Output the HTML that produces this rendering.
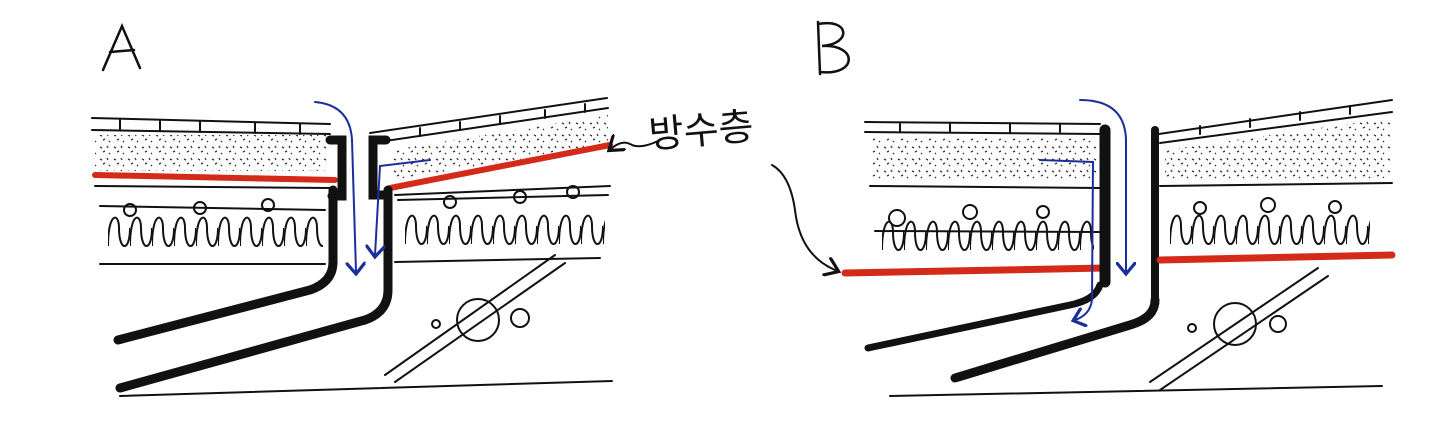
<!DOCTYPE html>
<html><head><meta charset="utf-8"><style>
html,body{margin:0;padding:0;background:#fff;}
svg{display:block;}
</style></head><body>
<svg width="1440" height="445" viewBox="0 0 1440 445" xmlns="http://www.w3.org/2000/svg">
<defs>
<pattern id="wave" width="22" height="46" patternUnits="userSpaceOnUse">
<path d="M0 38 C0 4,11 4,11 20 C11 44,22 44,22 20" fill="none" stroke="#111" stroke-width="2"/>
</pattern>
<pattern id="speck" width="14" height="12" patternUnits="userSpaceOnUse">
<path d="M2 3 l2 1 M9 2 l1 2 M5 8 l2 -1 M11 9 l1 1" stroke="#333" stroke-width="1.3"/>
</pattern>
<marker id="ab" markerWidth="10" markerHeight="10" refX="5" refY="5" orient="auto"><path d="M0 0 L6 5 L0 10" fill="none" stroke="#1a2f9a" stroke-width="1.6"/></marker>
<marker id="ak" markerWidth="10" markerHeight="10" refX="5" refY="5" orient="auto"><path d="M0 0 L7 5 L0 10" fill="none" stroke="#111" stroke-width="1.6"/></marker>
</defs>
<g fill="none" stroke="#111" stroke-width="2" stroke-linecap="round">
<path d="M103 70 L122 26 L140 68 M110 52 L134 50" stroke-width="2.5"/>
<path d="M818 22 L820 74 M818 24 C850 18,852 44,822 46 C858 44,858 76,820 72" stroke-width="2.5"/>

<!-- ===== A ===== -->
<path d="M92 118 L330 124 M92 130 L330 134"/>
<path d="M120 120 l0 10 M160 121 l0 10 M200 122 l0 10 M255 123 l0 10 M300 124 l0 10"/>
<rect x="95" y="135" width="232" height="36" fill="url(#speck)" stroke="none"/>
<path d="M95 175 L335 180" stroke="#d42a1a" stroke-width="6"/>
<path d="M95 186 L330 188"/>
<g transform="translate(108,208)"><rect width="215" height="46" fill="url(#wave)" stroke="none"/></g>
<path d="M100 206 L325 210 M100 264 L325 264"/>
<circle cx="130" cy="210" r="6"/><circle cx="200" cy="208" r="6"/><circle cx="268" cy="205" r="6"/>
<path d="M330 140 L342 140 L342 196 L332 196" stroke-width="9"/>
<path d="M333 190 L333 262 Q333 282 310 290 L118 340" stroke-width="9"/>
<path d="M370 133 L607 98 M372 143 L608 108"/>
<path d="M420 136 l0 -8 M460 130 l0 -8 M500 124 l0 -8 M545 118 l0 -8 M585 112 l0 -8"/>
<path d="M392 150 L608 115 L608 145 L392 180 Z" fill="url(#speck)" stroke="none"/>
<path d="M390 188 L610 145" stroke="#d42a1a" stroke-width="6"/>
<path d="M395 195 L610 186"/>
<g transform="translate(405,206)"><rect width="200" height="46" fill="url(#wave)" stroke="none"/></g>
<path d="M398 200 L608 195 M395 262 L600 258"/>
<circle cx="450" cy="202" r="6"/><circle cx="520" cy="197" r="6"/><circle cx="573" cy="192" r="6"/>
<path d="M386 140 L373 140 L373 195 L386 195" stroke-width="9"/>
<path d="M388 190 L388 290 Q388 312 365 320 L120 388" stroke-width="9"/>
<path d="M120 396 L612 381"/>
<path d="M385 375 L555 255 M395 382 L565 263"/>
<circle cx="478" cy="320" r="21"/><circle cx="436" cy="324" r="4"/><circle cx="520" cy="318" r="9"/>
<path d="M315 102 Q350 105 352 140 L356 272" stroke="#1a2f9a" marker-end="url(#ab)"/>
<path d="M430 160 L380 166 L375 255" stroke="#1a2f9a" marker-end="url(#ab)"/>

<text x="650" y="148" font-family="Liberation Sans, 'Noto Sans CJK KR', sans-serif" font-size="38" fill="#111" stroke="none" transform="rotate(-5 650 148)">방수층</text>
<path d="M660 140 Q640 150 630 144 Q622 140 612 148" marker-end="url(#ak)"/>
<path d="M772 165 Q790 175 795 210 Q800 255 835 270" marker-end="url(#ak)"/>

<!-- ===== B ===== -->
<path d="M865 122 L1100 124 M865 132 L1100 134"/>
<path d="M900 124 l0 8 M950 124 l0 8 M1010 124 l0 8 M1060 124 l0 8"/>
<rect x="872" y="138" width="225" height="42" fill="url(#speck)" stroke="none"/>
<path d="M870 186 L1100 188"/>
<g transform="translate(882,212)"><rect width="212" height="46" fill="url(#wave)" stroke="none"/></g>
<path d="M875 231 L1100 232"/>
<circle cx="897" cy="218" r="8"/><circle cx="970" cy="212" r="7"/><circle cx="1043" cy="212" r="6"/>
<path d="M845 273 L1105 268" stroke="#d42a1a" stroke-width="7"/>
<path d="M1105 130 L1105 282" stroke-width="11"/>
<path d="M1100 285 Q1095 300 1070 305 L868 348" stroke-width="7"/>
<path d="M1155 300 L1155 130" stroke-width="8"/>
<path d="M1152 135 L1392 100 M1160 143 L1392 112"/>
<path d="M1200 134 l0 -8 M1250 127 l0 -8 M1300 120 l0 -8 M1350 114 l0 -8"/>
<path d="M1165 150 L1390 118 L1390 178 L1165 182 Z" fill="url(#speck)" stroke="none"/>
<path d="M1160 186 L1392 183"/>
<g transform="translate(1170,206)"><rect width="200" height="46" fill="url(#wave)" stroke="none"/></g>
<circle cx="1200" cy="208" r="6"/><circle cx="1268" cy="205" r="7"/><circle cx="1335" cy="207" r="6"/>
<path d="M1160 260 L1392 255" stroke="#d42a1a" stroke-width="7"/>
<path d="M1155 300 Q1155 318 1130 325 L955 378" stroke-width="9"/>
<path d="M890 396 L1382 386"/>
<path d="M1150 382 L1318 268 M1160 390 L1328 276"/>
<circle cx="1235" cy="324" r="21"/><circle cx="1192" cy="328" r="4"/><circle cx="1278" cy="324" r="8"/>
<path d="M1080 100 Q1125 100 1126 140 L1126 272" stroke="#1a2f9a" marker-end="url(#ab)"/>
<path d="M1040 160 L1093 162 L1092 300 Q1090 315 1075 320" stroke="#1a2f9a" marker-end="url(#ab)"/>
</g>
</svg>
</body></html>
